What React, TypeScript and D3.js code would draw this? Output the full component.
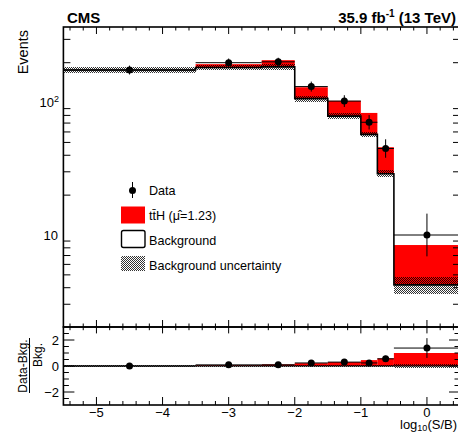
import React from "react";
import * as d3 from "d3";

// bins in log10(S/B)
const binEdges = [-5.5, -3.5, -2.5, -2, -1.5, -1, -0.75, -0.5, 0.5];
const binCenters = [-4.5, -3, -2.25, -1.75, -1.25, -0.875, -0.625, 0];
const background = [176, 184, 186, 107, 79, 57.5, 29, 4.2];
const tthSignal = [0.3, 11, 23, 23.5, 24, 26, 17, 4.2];
const dataCounts = [176, 200, 203, 132, 102.6, 71, 45, 10];
const dataErrLow = [13, 14, 14, 11, 10, 8.4, 6.7, 3.1];
const dataErrHigh = [14, 15, 15, 12, 11, 9.4, 7.8, 4.5];
const dataErrSym = [13.3, 14.1, 14.2, 11.5, 10.1, 8.4, 6.7, 3.2];
const bkgRelUnc = [0.05, 0.05, 0.045, 0.05, 0.05, 0.05, 0.06, 0.15];

const xMajorTicks = [-5, -4, -3, -2, -1, 0];
const yMajorTicks = [10, 100];
const ratioMajorTicks = [-2, 0, 2];

const FONT = "'Liberation Sans', Arial, Helvetica, sans-serif";

const App = () => {
  const W = 458;
  const H = 432;
  const left = 63.4;
  const right = 460;
  const topY = 27;
  const midY = 327;
  const botY = 405;

  const x = d3.scaleLinear().domain([-5.5, 0.5]).range([left, right]);
  const y = d3.scaleLog().domain([2.02, 372]).range([midY, topY]);
  const yr = d3.scaleLinear().domain([-3, 3]).range([botY, midY]);

  const xMinor = d3.range(-27, 3).map((i) => i * 0.2);
  const yMinor = [1, 10, 100]
    .flatMap((d) => d3.range(2, 10).map((k) => k * d))
    .filter((v) => v > 2.02 && v < 372);
  const rMinor = d3.range(-5, 6).map((i) => i * 0.5);

  const bins = background.map((b, i) => ({
    x0: x(binEdges[i]),
    x1: x(binEdges[i + 1]),
    cx: x(binCenters[i]),
    bkg: b,
    tot: b + tthSignal[i],
    data: dataCounts[i],
    lo: dataErrLow[i],
    hi: dataErrHigh[i],
    sym: dataErrSym[i],
    unc: bkgRelUnc[i],
  }));

  let bkgPath = "";
  bins.forEach((b, i) => {
    bkgPath += (i === 0 ? `M${b.x0},${y(b.bkg)}` : `V${y(b.bkg)}`) + `H${b.x1}`;
  });
  const zeroPath = `M${left},${yr(0)}H${right}`;

  return (
    <svg
      width={W}
      height={H}
      style={{ position: "absolute", left: 0, top: 0, background: "#fff" }}
      fontFamily={FONT}
    >
      <defs>
        <pattern id="hatch" width="2" height="2" patternUnits="userSpaceOnUse">
          <rect x="0" y="0" width="1" height="1" fill="#000" fillOpacity="0.8" />
          <rect x="1" y="1" width="1" height="1" fill="#000" fillOpacity="0.8" />
        </pattern>
        <clipPath id="clipTop">
          <rect x={left} y={topY} width={right - left} height={midY - topY} />
        </clipPath>
        <clipPath id="clipBot">
          <rect x={left} y={midY} width={right - left} height={botY - midY} />
        </clipPath>
      </defs>

      {/* upper panel */}
      <g clipPath="url(#clipTop)">
        {bins.map((b, i) => (
          <rect key={"s" + i} x={b.x0} y={y(b.tot)} width={b.x1 - b.x0}
            height={Math.max(0, y(b.bkg) - y(b.tot))} fill="#ff0000" />
        ))}
        {bins.map((b, i) => (
          <rect key={"u" + i} x={b.x0} y={y(b.bkg * (1 + b.unc))} width={b.x1 - b.x0}
            height={y(b.bkg * (1 - b.unc)) - y(b.bkg * (1 + b.unc))}
            fill="url(#hatch)" shapeRendering="crispEdges" />
        ))}
        <path d={bkgPath} fill="none" stroke="#000" strokeWidth={1.6} />
        {bins.map((b, i) => (
          <g key={"d" + i} stroke="#000" strokeWidth={1}>
            <line x1={b.x0} x2={b.x1} y1={y(b.data)} y2={y(b.data)} />
            <line x1={b.cx} x2={b.cx} y1={y(b.data + b.hi)} y2={y(b.data - b.lo)} />
            <circle cx={b.cx} cy={y(b.data)} r={3.5} fill="#000" stroke="none" />
          </g>
        ))}
      </g>

      {/* lower panel */}
      <g clipPath="url(#clipBot)">
        {bins.map((b, i) => (
          <rect key={"rs" + i} x={b.x0} y={yr((b.tot - b.bkg) / b.bkg)} width={b.x1 - b.x0}
            height={yr(0) - yr((b.tot - b.bkg) / b.bkg)} fill="#ff0000" />
        ))}
        {bins.map((b, i) => (
          <rect key={"ru" + i} x={b.x0} y={yr(b.unc)} width={b.x1 - b.x0}
            height={yr(-b.unc) - yr(b.unc)} fill="url(#hatch)" shapeRendering="crispEdges" />
        ))}
        <path d={zeroPath} fill="none" stroke="#000" strokeWidth={1.2} />
        {bins.map((b, i) => {
          const r = (b.data - b.bkg) / b.bkg;
          const e = b.sym / b.bkg;
          return (
            <g key={"rd" + i} stroke="#000" strokeWidth={1}>
              <line x1={b.x0} x2={b.x1} y1={yr(r)} y2={yr(r)} />
              <line x1={b.cx} x2={b.cx} y1={yr(r + e)} y2={yr(r - e)} />
              <circle cx={b.cx} cy={yr(r)} r={3.5} fill="#000" stroke="none" />
            </g>
          );
        })}
      </g>

      {/* ticks */}
      <g stroke="#000" strokeWidth={1}>
        {xMinor.map((v, i) => {
          const major = Math.abs(v - Math.round(v)) < 1e-6;
          const lt = major ? 7 : 3.5;
          const lb = major ? 8 : 4;
          const px = x(v);
          return (
            <g key={"xt" + i}>
              <line x1={px} x2={px} y1={topY} y2={topY + lt} />
              <line x1={px} x2={px} y1={midY} y2={midY - lt} />
              <line x1={px} x2={px} y1={midY} y2={midY + lb * 0.8} />
              <line x1={px} x2={px} y1={botY} y2={botY - lb} />
            </g>
          );
        })}
        {yMinor.map((v, i) => {
          const major = yMajorTicks.includes(v);
          const l = major ? 14 : 7;
          return (
            <g key={"yt" + i}>
              <line x1={left} x2={left + l} y1={y(v)} y2={y(v)} />
              <line x1={right} x2={right - l} y1={y(v)} y2={y(v)} />
            </g>
          );
        })}
        {rMinor.map((v, i) => {
          const major = ratioMajorTicks.some((m) => Math.abs(m - v) < 1e-6);
          const l = major ? 11 : 5.5;
          return (
            <g key={"rt" + i}>
              <line x1={left} x2={left + l} y1={yr(v)} y2={yr(v)} />
              <line x1={right} x2={right - l} y1={yr(v)} y2={yr(v)} />
            </g>
          );
        })}
      </g>

      {/* frames */}
      <rect x={left} y={topY} width={right - left} height={midY - topY}
        fill="none" stroke="#000" strokeWidth={1.6} />
      <rect x={left} y={midY} width={right - left} height={botY - midY}
        fill="none" stroke="#000" strokeWidth={1.6} />

      {/* y tick labels upper */}
      <g fontSize={13} textAnchor="end" fill="#000">
        <text x={58} y={y(10) + 4.5}>10</text>
        <text x={59} y={y(100) + 4.5}>
          10<tspan fontSize={9} dy={-5}>2</tspan>
        </text>
      </g>
      {/* y tick labels lower */}
      <g fontSize={13} textAnchor="end" fill="#000">
        {ratioMajorTicks.map((v) => (
          <text key={"rl" + v} x={59} y={yr(v) + 4.5}>
            {v < 0 ? "\u2212" + Math.abs(v) : String(v)}
          </text>
        ))}
      </g>
      {/* x tick labels */}
      <g fontSize={13} textAnchor="middle" fill="#000">
        {xMajorTicks.map((v) => (
          <text key={"xl" + v} x={x(v)} y={417}>
            {v < 0 ? "\u2212" + Math.abs(v) : String(v)}
          </text>
        ))}
      </g>

      {/* axis titles */}
      <text x={457} y={429} fontSize={13} textAnchor="end">
        log<tspan fontSize={9} dy={2}>10</tspan>
        <tspan dy={-2}>(S/B)</tspan>
      </text>
      <text transform="translate(28,30) rotate(-90)" fontSize={14.5} textAnchor="end">
        Events
      </text>
      <text transform={`translate(27,${yr(0)}) rotate(-90)`} fontSize={12} textAnchor="middle">
        Data-Bkg.
      </text>
      <line x1={29.5} x2={29.5} y1={338} y2={393} stroke="#000" strokeWidth={1} />
      <text transform={`translate(42,355) rotate(-90)`} fontSize={12} textAnchor="middle">
        Bkg.
      </text>

      {/* header */}
      <text x={67} y={23} fontSize={15} fontWeight="bold">CMS</text>
      <text x={456} y={23} fontSize={15} fontWeight="bold" textAnchor="end">
        35.9 fb<tspan fontSize={10} dy={-6}>-1</tspan>
        <tspan dy={6}> (13 TeV)</tspan>
      </text>

      {/* legend */}
      <g fontSize={12.6} fill="#000">
        <line x1={132.5} x2={132.5} y1={182} y2={198} stroke="#000" strokeWidth={1} />
        <circle cx={132.5} cy={190.5} r={3.5} fill="#000" />
        <text x={149} y={195}>Data</text>

        <rect x={121} y={206.5} width={24} height={17} fill="#ff0000" />
        <text x={149} y={220}>t{"t\u0304"}H ({"\u03bc\u0302"}=1.23)</text>

        <rect x={121.5} y={230.5} width={23.5} height={17} rx={2} fill="#fff"
          stroke="#000" strokeWidth={1.4} />
        <text x={149} y={245}>Background</text>

        <rect x={121} y={256} width={24} height={15} fill="url(#hatch)" shapeRendering="crispEdges" />
        <text x={149} y={270}>Background uncertainty</text>
      </g>
    </svg>
  );
};

export default App;
